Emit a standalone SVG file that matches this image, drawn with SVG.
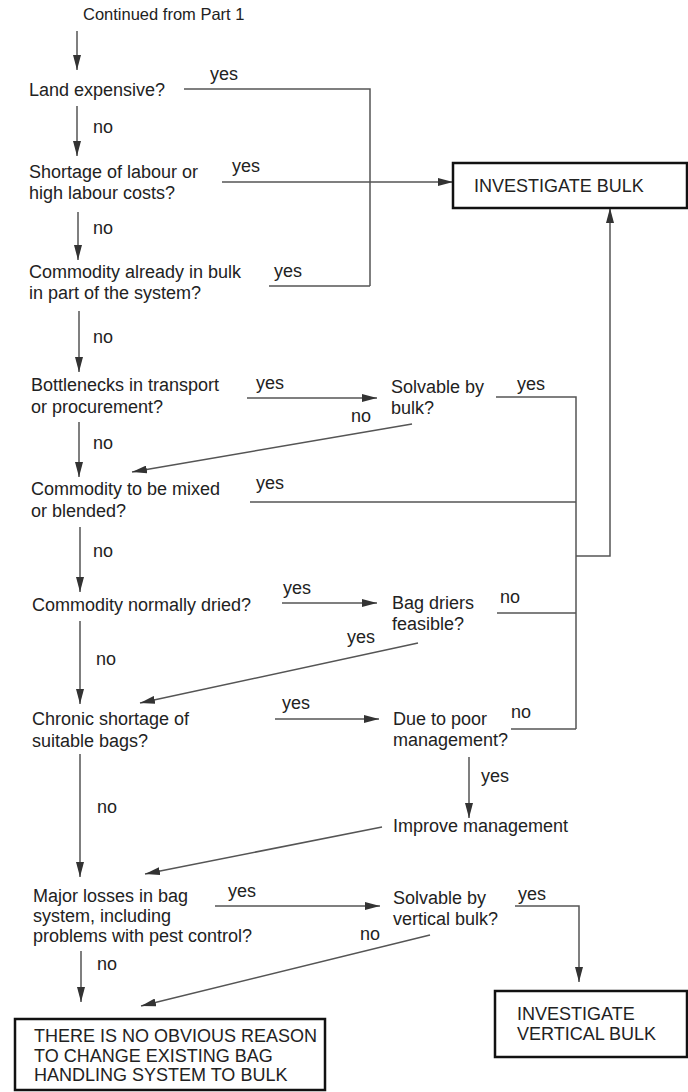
<svg xmlns="http://www.w3.org/2000/svg" width="688" height="1092" viewBox="0 0 688 1092">
<defs>
<marker id="ah" markerUnits="userSpaceOnUse" markerWidth="15" markerHeight="8" refX="15" refY="4" orient="auto">
<path d="M0,0 L15,4 L0,8 z" fill="#333"/>
</marker>
<style>
text{font-family:"Liberation Sans",Arial,sans-serif;font-size:18px;fill:#222}
.small{font-size:16.5px}
.c line,.c polyline{stroke:#555;stroke-width:1.5;fill:none}
.a{marker-end:url(#ah)}
.box{fill:#fff;stroke:#111;stroke-width:2.5}
</style>
</defs>
<rect width="688" height="1092" fill="#fff"/>
<g class="c" id="connectors">
<line class="a" x1="77" y1="31" x2="77" y2="70"/>
<line class="a" x1="77" y1="106" x2="77" y2="156"/>
<polyline points="184,89 370,89 370,286"/>
<line class="a" x1="222" y1="182" x2="453" y2="182"/>
<line class="a" x1="78" y1="212" x2="78" y2="260"/>
<line x1="269" y1="286" x2="370" y2="286"/>
<line class="a" x1="79" y1="311" x2="79" y2="372"/>
<line class="a" x1="247" y1="398" x2="377" y2="398"/>
<polyline points="496,397 576,397 576,729"/>
<line class="a" x1="412" y1="424" x2="132" y2="472"/>
<line class="a" x1="79" y1="422" x2="79" y2="477"/>
<line x1="250" y1="502" x2="576" y2="502"/>
<polyline class="a" points="576,556 610,556 610,208"/>
<line class="a" x1="80" y1="527" x2="80" y2="592"/>
<line class="a" x1="282" y1="603" x2="377" y2="603"/>
<line x1="497" y1="613" x2="576" y2="613"/>
<line class="a" x1="418" y1="643" x2="140" y2="703"/>
<line class="a" x1="80" y1="621" x2="80" y2="704"/>
<line class="a" x1="275" y1="719" x2="379" y2="719"/>
<line x1="511" y1="729" x2="576" y2="729"/>
<line class="a" x1="469" y1="757" x2="469" y2="818"/>
<line class="a" x1="382" y1="827" x2="145" y2="874"/>
<line class="a" x1="80" y1="754" x2="80" y2="877"/>
<line class="a" x1="215" y1="906" x2="380" y2="906"/>
<polyline class="a" points="515,906 579,906 579,982"/>
<line class="a" x1="430" y1="935" x2="141" y2="1006"/>
<line class="a" x1="81" y1="951" x2="81" y2="1002"/>
</g>
<g id="labels">
<text x="93" y="133">no</text>
<text x="210" y="80">yes</text>
<text x="232" y="172">yes</text>
<text x="93" y="234">no</text>
<text x="274" y="277">yes</text>
<text x="93" y="343">no</text>
<text x="256" y="389">yes</text>
<text x="517" y="390">yes</text>
<text x="351" y="422">no</text>
<text x="93" y="449">no</text>
<text x="256" y="489">yes</text>
<text x="93" y="557">no</text>
<text x="283" y="594">yes</text>
<text x="500" y="603">no</text>
<text x="347" y="643">yes</text>
<text x="96" y="665">no</text>
<text x="282" y="709">yes</text>
<text x="511" y="718">no</text>
<text x="481" y="782">yes</text>
<text x="97" y="813">no</text>
<text x="228" y="897">yes</text>
<text x="518" y="900">yes</text>
<text x="360" y="940">no</text>
<text x="97" y="970">no</text>
</g>
<g id="start"><text class="small" x="83" y="20">Continued from Part 1</text></g>
<g id="land"><text x="29" y="96">Land expensive?</text></g>
<g id="labour"><text x="29" y="178">Shortage of labour or</text><text x="29" y="199">high labour costs?</text></g>
<g id="already"><text x="29" y="278">Commodity already in bulk</text><text x="29" y="299">in part of the system?</text></g>
<g id="bottlenecks"><text x="31" y="391">Bottlenecks in transport</text><text x="31" y="413">or procurement?</text></g>
<g id="solvable1"><text x="391" y="393">Solvable by</text><text x="391" y="414">bulk?</text></g>
<g id="mixed"><text x="31" y="495">Commodity to be mixed</text><text x="31" y="517">or blended?</text></g>
<g id="dried"><text x="32" y="611">Commodity normally dried?</text></g>
<g id="driers"><text x="392" y="609">Bag driers</text><text x="392" y="630">feasible?</text></g>
<g id="chronic"><text x="32" y="725">Chronic shortage of</text><text x="32" y="747">suitable bags?</text></g>
<g id="poor"><text x="393" y="725">Due to poor</text><text x="393" y="746">management?</text></g>
<g id="improve"><text x="393" y="832">Improve management</text></g>
<g id="losses"><text x="33" y="902">Major losses in bag</text><text x="33" y="922">system, including</text><text x="33" y="942">problems with pest control?</text></g>
<g id="solvable2"><text x="393" y="904">Solvable by</text><text x="393" y="925">vertical bulk?</text></g>
<g id="bulk"><rect class="box" x="453" y="163" width="234" height="45"/><text x="474" y="192">INVESTIGATE BULK</text></g>
<g id="vbulk"><rect class="box" x="495" y="991" width="192" height="66"/><text x="517" y="1020">INVESTIGATE</text><text x="517" y="1040">VERTICAL BULK</text></g>
<g id="noreason"><rect class="box" x="15" y="1019" width="310" height="71"/><text x="34" y="1042">THERE IS NO OBVIOUS REASON</text><text x="34" y="1062">TO CHANGE EXISTING BAG</text><text x="34" y="1081">HANDLING SYSTEM TO BULK</text></g>
</svg>
